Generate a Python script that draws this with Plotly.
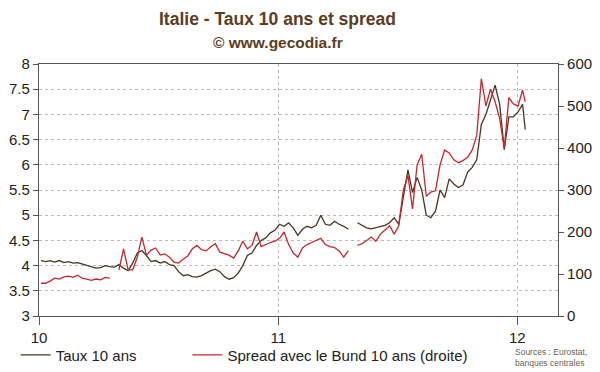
import pandas as pd
import plotly.graph_objects as go

# Weekly observation dates (Jan 2010 - Jan 2012)
dates = list(pd.date_range("2010-01-04", periods=106, freq="7D")) + [pd.Timestamp("2012-01-13")]

# Taux 10 ans (%), left axis
taux = [4.10, 4.08, 4.10, 4.07, 4.10, 4.06, 4.08, 4.05, 4.06, 4.03,
        4.00, 3.97, 3.95, 3.96, 4.00, 3.98, 3.97, 4.02, 3.95, 3.90,
        4.05, 4.25, 4.30, 4.20, 4.08, 4.10, 4.05, 4.08, 4.02, 4.00,
        3.88, 3.80, 3.82, 3.78, 3.77, 3.80, 3.85, 3.90, 3.93, 3.88,
        3.78, 3.73, 3.76, 3.85, 4.00, 4.20, 4.25, 4.40, 4.50, 4.55,
        4.65, 4.70, 4.82, 4.78, 4.85, 4.75, 4.60, 4.72, 4.78, 4.75,
        4.80, 5.00, 4.82, 4.80, 4.88, 4.82, 4.78, 4.72, None, 4.85,
        4.80, 4.75, 4.73, 4.75, 4.78, 4.80, 4.85, 4.95, 4.82, 5.40,
        5.90, 5.45, 5.75, 5.50, 5.00, 4.95, 5.08, 5.50, 5.35, 5.72,
        5.62, 5.55, 5.60, 5.85, 5.95, 6.10, 6.80, 7.00, 7.30, 7.58,
        7.20, 6.30, 6.95, 6.95, 7.05, 7.20, 6.70]

# Spread avec le Bund 10 ans (pb), right axis
spread = [78, 78, 83, 90, 88, 93, 95, 92, 97, 90,
          88, 85, 88, 86, 92, 90, None, 110, 160, 110,
          110, 140, 188, 145, 157, 162, 145, 148, 140, 128,
          126, 135, 143, 160, 168, 158, 155, 165, 172, 152,
          148, 145, 138, 155, 178, 160, 168, 200, 165, 170,
          175, 178, 185, 200, 170, 150, 140, 162, 170, 175,
          180, 185, 170, 165, 163, 155, 140, 155, None, 168,
          172, 180, 188, 178, 195, 205, 215, 195, 215, 300,
          335, 255, 360, 385, 285, 295, 298, 360, 395, 388,
          372, 365, 370, 378, 395, 430, 565, 500, 540, 510,
          470, 400, 520, 505, 500, 538, 510]

year_ticks = ["2010-01-01", "2011-01-01", "2012-01-01"]
year_labels = ["10", "11", "12"]
left_ticks = [3, 3.5, 4, 4.5, 5, 5.5, 6, 6.5, 7, 7.5, 8]
right_ticks = [0, 100, 200, 300, 400, 500, 600]

FONT = "Liberation Sans, Arial, sans-serif"
AXC = "#555555"
TXT = "#222222"

fig = go.Figure()
fig.add_trace(go.Scatter(x=dates, y=taux, name="Taux 10 ans" + "\u00a0" * 11, mode="lines",
                         line=dict(color="#4a3520", width=1.3), connectgaps=False))
fig.add_trace(go.Scatter(x=dates, y=spread, name="Spread avec le Bund 10 ans (droite)",
                         mode="lines", yaxis="y2",
                         line=dict(color="#c8262c", width=1.3), connectgaps=False))

fig.update_layout(
    width=600, height=372,
    margin=dict(l=39, r=42, t=64, b=56, autoexpand=False),
    paper_bgcolor="white", plot_bgcolor="white",
    font=dict(family=FONT, size=15, color=TXT),
    xaxis=dict(type="date", range=["2010-01-01", "2012-03-03"],
               tickvals=year_ticks, ticktext=year_labels,
               showgrid=True, gridcolor="#bbbbbb", griddash="dot", gridwidth=1,
               showline=True, linecolor=AXC, linewidth=1.2, mirror=True,
               ticks="outside", ticklen=8, tickcolor=AXC,
               tickfont=dict(size=15, color=TXT), zeroline=False, automargin=False),
    yaxis=dict(range=[3, 8], tickvals=left_ticks,
               ticktext=[str(t) if t % 1 else str(int(t)) for t in left_ticks],
               showgrid=True, gridcolor="#bbbbbb", griddash="dot", gridwidth=1,
               showline=True, linecolor=AXC, linewidth=1.2, mirror=True,
               ticks="outside", ticklen=5, tickcolor=AXC,
               tickfont=dict(size=15, color=TXT), zeroline=False, automargin=False),
    yaxis2=dict(range=[0, 600], tickvals=right_ticks, overlaying="y", side="right",
                showgrid=False, showline=True, linecolor=AXC, linewidth=1.2,
                ticks="outside", ticklen=5, tickcolor=AXC,
                tickfont=dict(size=15, color=TXT), zeroline=False, automargin=False),
    legend=dict(orientation="h", x=-0.045, xanchor="left", y=-0.09, yanchor="top",
                font=dict(size=15, color=TXT),
                bgcolor="rgba(0,0,0,0)", itemwidth=30, tracegroupgap=0),
    showlegend=True,
)

fig.add_annotation(text="<b>Italie - Taux 10 ans et spread</b>", xref="paper", yref="paper",
                   x=0.46, y=1.0 + (64 - 19) / 252, xanchor="center", yanchor="middle",
                   showarrow=False, font=dict(family=FONT, size=17.5, color="#5c3d1e"))
fig.add_annotation(text="<b>© www.gecodia.fr</b>", xref="paper", yref="paper",
                   x=0.46, y=1.0 + (64 - 42) / 252, xanchor="center", yanchor="middle",
                   showarrow=False, font=dict(family=FONT, size=15.5, color="#5c3d1e"))
fig.add_annotation(text="Sources : Eurostat,<br>banques centrales", xref="paper", yref="paper",
                   x=0.914, y=-0.117, xanchor="left", yanchor="top", showarrow=False, align="left",
                   font=dict(family=FONT, size=8.5, color="#6b5f55"))

fig.write_html("out.html", config={"displayModeBar": False},
               post_script="document.body.style.margin='0';document.body.style.padding='0';")
